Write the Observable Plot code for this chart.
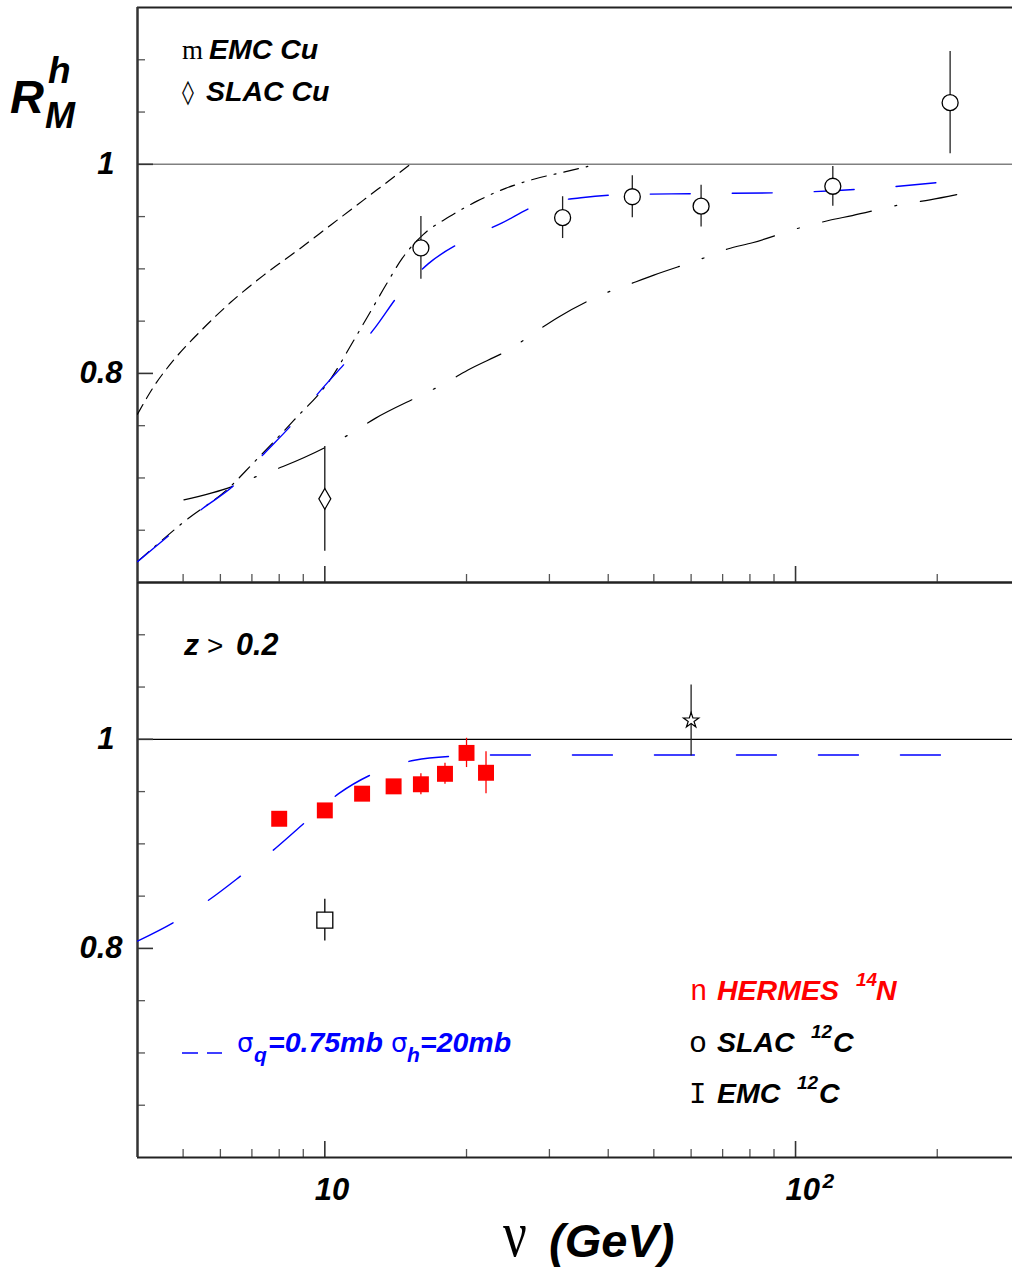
<!DOCTYPE html>
<html><head><meta charset="utf-8">
<script src="https://cdn.jsdelivr.net/npm/d3@7"></script>
<script src="https://cdn.jsdelivr.net/npm/@observablehq/plot@0.6"></script>
<style>
body{margin:0;background:#fff;}
#wrap{position:relative;width:1012px;height:1270px;overflow:hidden;background:#fff;}
#wrap svg{position:absolute;left:0;}
</style></head><body><div id="wrap"></div>
<script>
// ---------- axes ----------
const xDomain = [4, 289];
const yDomain = [0.6, 1.15];
const xMajorTicks = [10, 100];
const xMinorTicks = [5, 6, 7, 8, 9, 20, 30, 40, 50, 60, 70, 80, 90, 200];
const xTickLabels = ["10", "10"];
const xTickExponents = ["", "2"];
const yMajorTicks = [0.8, 1];
const yMinorTicks = [0.65, 0.7, 0.75, 0.85, 0.9, 0.95, 1.05, 1.1];
const yTickLabels = ["0.8", "1"];

// ---------- top panel data (Cu) ----------
const emcCuNu = [16, 32, 45, 63, 120, 213];
const emcCuR = [0.920, 0.949, 0.969, 0.960, 0.979, 1.059];
const emcCuErr = [0.030, 0.020, 0.020, 0.020, 0.019, 0.049];
const slacCuNu = [10];
const slacCuR = [0.680];
const slacCuErr = [0.050];

// short-dashed black curve
const curveANu = [4.0, 4.34, 4.78, 5.46, 6.31, 7.42, 8.77, 10.3, 12.1, 14.7, 15.2];
const curveAR = [0.761, 0.788, 0.813, 0.841, 0.868, 0.894, 0.918, 0.942, 0.966, 0.995, 1.0];
// dash-dot black curve (steep)
const curveBNu = [4.0, 5.02, 6.31, 6.97, 8.59, 10.3, 11.5, 12.5, 13.5, 14.6, 16.2, 18.4, 21.1, 24.2, 27.9, 32.5, 36.2];
const curveBR = [0.620, 0.658, 0.692, 0.712, 0.755, 0.795, 0.831, 0.859, 0.885, 0.910, 0.933, 0.950, 0.965, 0.977, 0.986, 0.993, 0.998];
// blue long-dashed curve (top)
const curveCNu = [4.0, 4.36, 5.51, 6.38, 7.42, 8.55, 9.81, 11.2, 12.8, 14.4, 16.6, 19.6, 23.8, 28.3, 35.0, 42.5, 63.8, 96.1, 145, 216];
const curveCR = [0.620, 0.634, 0.671, 0.692, 0.723, 0.752, 0.784, 0.813, 0.844, 0.876, 0.905, 0.926, 0.944, 0.961, 0.968, 0.971, 0.972, 0.973, 0.977, 0.984];
// long dash-dot black curve
const curveDNu = [5.02, 6.38, 7.21, 8.15, 10.2, 11.5, 12.8, 16.0, 17.9, 20.1, 25.1, 28.1, 31.4, 39.1, 44.2, 50.0, 63.5, 71.7, 81.0, 103.5, 117, 132, 170, 193, 220];
const curveDR = [0.679, 0.692, 0.702, 0.711, 0.731, 0.744, 0.757, 0.779, 0.790, 0.803, 0.825, 0.840, 0.854, 0.876, 0.885, 0.894, 0.910, 0.919, 0.925, 0.940, 0.946, 0.951, 0.962, 0.966, 0.971];

// ---------- bottom panel data (N, C) ----------
const hermesNu = [8, 10, 12, 14, 16, 18, 20, 22];
const hermesR = [0.924, 0.932, 0.948, 0.955, 0.957, 0.967, 0.987, 0.968];
const hermesErr = [0.005, 0.005, 0.005, 0.006, 0.010, 0.010, 0.014, 0.020];
const slacCNu = [10];
const slacCR = [0.827];
const slacCErr = [0.020];
const emcCNu = [60];
const emcCR = [1.018];
const emcCErr = [0.034];
// blue dashed model curve (bottom)
const curveENu = [4.0, 4.78, 5.70, 6.70, 7.87, 9.16, 10.7, 12.8, 15.5, 19.0, 23.4, 60, 221];
const curveER = [0.807, 0.825, 0.847, 0.871, 0.896, 0.922, 0.948, 0.968, 0.980, 0.984, 0.985, 0.985, 0.985];

// ---------- helpers ----------
const pts = (xs, ys, es) => xs.map((x, i) => ({x, y: ys[i], e: es ? es[i] : 0}));
const FONT = "Liberation Sans, Arial, Helvetica, sans-serif";
const frameW = 1012 - 137;
const frameH = 575;
const labelStyle = {fontSize: 31, fontWeight: "bold", fontStyle: "italic", fontFamily: FONT, fill: "#000"};

function frameMarks(isBottom) {
  return [
    Plot.ruleY([1], {stroke: isBottom ? "#000" : "#808080", strokeWidth: isBottom ? 1.3 : 1.6}),
    Plot.tickY(yMajorTicks, {y: d => d, insetRight: frameW - 16, stroke: "#333", strokeWidth: 1.6}),
    Plot.tickY(yMinorTicks, {y: d => d, insetRight: frameW - 8, stroke: "#555", strokeWidth: 1.3}),
    Plot.tickX(xMajorTicks, {x: d => d, insetTop: frameH - 16, stroke: "#333", strokeWidth: 1.6}),
    Plot.tickX(xMinorTicks, {x: d => d, insetTop: frameH - 8, stroke: "#555", strokeWidth: 1.3}),
    Plot.ruleY(yDomain, {stroke: "#222", strokeWidth: 2}),
    Plot.ruleX([xDomain[0]], {stroke: "#333", strokeWidth: 2.5}),
    Plot.text([yMajorTicks[0]], {y: d => d, text: [yTickLabels[0]], frameAnchor: "left", dx: -15, textAnchor: "end", ...labelStyle}),
    Plot.text([yMajorTicks[1]], {y: d => d, text: [yTickLabels[1]], frameAnchor: "left", dx: -23, textAnchor: "end", ...labelStyle})
  ];
}

function panel(height, marks) {
  return Plot.plot({
    width: 1012, height,
    marginLeft: 137, marginRight: 0, marginTop: 7, marginBottom: height - 7 - frameH,
    x: {type: "log", domain: xDomain, axis: null},
    y: {domain: yDomain, axis: null},
    style: {background: "transparent", overflow: "visible", fontFamily: FONT},
    marks
  });
}

// ---------- top panel ----------
const emcCu = pts(emcCuNu, emcCuR, emcCuErr);
const slacCu = pts(slacCuNu, slacCuR, slacCuErr);
const topSvg = panel(600, [
  ...frameMarks(false),
  Plot.line(pts(curveANu, curveAR), {x: "x", y: "y", curve: "monotone-x", stroke: "#000", strokeWidth: 1.2, strokeDasharray: "11,7", clip: true}),
  Plot.line(pts(curveDNu, curveDR), {x: "x", y: "y", curve: "monotone-x", stroke: "#000", strokeWidth: 1.2, strokeDasharray: "50,24,2,24", clip: true}),
  Plot.line(pts(curveBNu, curveBR), {x: "x", y: "y", curve: "monotone-x", stroke: "#000", strokeWidth: 1.2, strokeDasharray: "15,8,2,8", clip: true}),
  Plot.line(pts(curveCNu, curveCR), {x: "x", y: "y", curve: "monotone-x", stroke: "#0000ff", strokeWidth: 1.4, strokeDasharray: "40,42", clip: true}),
  Plot.ruleX(emcCu, {x: "x", y1: d => d.y - d.e, y2: d => d.y + d.e, stroke: "#222", strokeWidth: 1.3}),
  Plot.dot(emcCu, {x: "x", y: "y", r: 8, stroke: "#000", fill: "#fff", strokeWidth: 1.3}),
  Plot.ruleX(slacCu, {x: "x", y1: d => d.y - d.e, y2: d => d.y + d.e, stroke: "#000", strokeWidth: 1.2}),
  Plot.dot(slacCu, {x: "x", y: "y", symbol: "diamond", r: 6.3, stroke: "#000", fill: "#fff", strokeWidth: 1.2})
]);

// ---------- bottom panel ----------
const hermes = pts(hermesNu, hermesR, hermesErr);
const slacC = pts(slacCNu, slacCR, slacCErr);
const emcC = pts(emcCNu, emcCR, emcCErr);
const botSvg = panel(695, [
  ...frameMarks(true),
  Plot.line(pts(curveENu, curveER), {x: "x", y: "y", curve: "monotone-x", stroke: "#0000ff", strokeWidth: 1.4, strokeDasharray: "40,42", clip: true}),
  Plot.ruleX(hermes, {x: "x", y1: d => d.y - d.e, y2: d => d.y + d.e, stroke: "#ff0000", strokeWidth: 1.3}),
  Plot.dot(hermes, {x: "x", y: "y", symbol: "square", r: 9, fill: "#ff0000", stroke: "none"}),
  Plot.ruleX(slacC, {x: "x", y1: d => d.y - d.e, y2: d => d.y + d.e, stroke: "#000", strokeWidth: 1.3}),
  Plot.dot(slacC, {x: "x", y: "y", symbol: "square", r: 9, stroke: "#000", fill: "#fff", strokeWidth: 1.3}),
  Plot.ruleX(emcC, {x: "x", y1: d => d.y - d.e, y2: d => d.y + d.e, stroke: "#222", strokeWidth: 1.3}),
  Plot.dot(emcC, {x: "x", y: "y", symbol: "star", r: 4.8, stroke: "#000", fill: "#fff", strokeWidth: 1.2}),
  Plot.text(xMajorTicks, {x: d => d, text: (d, i) => xTickLabels[i], frameAnchor: "bottom", dx: -10, dy: 42, textAnchor: "start", ...labelStyle}),
  Plot.text(xMajorTicks, {x: d => d, text: (d, i) => xTickExponents[i], frameAnchor: "bottom", dx: 27, dy: 30, textAnchor: "start", ...labelStyle, fontSize: 21})
]);

const wrap = document.getElementById("wrap");
botSvg.style.top = "575px";
topSvg.style.top = "0px";
wrap.appendChild(botSvg);
wrap.appendChild(topSvg);

// ---------- text overlay (labels, legends) ----------
const BI = `font-family="${FONT}" font-weight="bold" font-style="italic"`;
const overlay = `
<svg xmlns="http://www.w3.org/2000/svg" width="1012" height="1270" style="top:0;left:0;pointer-events:none">
  <text x="10" y="113" font-size="47" ${BI}>R</text>
  <text x="48" y="83" font-size="37" ${BI}>h</text>
  <text x="45" y="128" font-size="36" ${BI}>M</text>

  <text x="182" y="59" font-size="27" font-family="Liberation Serif, serif">m</text>
  <text x="209" y="59" font-size="28.5" ${BI}>EMC Cu</text>
  <text x="182" y="100" font-size="24" font-family="DejaVu Sans, sans-serif">◊</text>
  <text x="206" y="101" font-size="28.5" ${BI}>SLAC Cu</text>

  <text x="184" y="655" font-size="30" ${BI}>z</text>
  <text x="207" y="655" font-size="28" font-family="${FONT}">&gt;</text>
  <text x="236" y="655" font-size="30.5" ${BI}>0.2</text>

  <g fill="#ff0000">
    <text x="690" y="1000" font-size="29" font-family="Liberation Mono, monospace">n</text>
    <text x="717" y="1000" font-size="28.5" ${BI}>HERMES</text>
    <text x="856" y="986" font-size="19" ${BI}>14</text>
    <text x="876" y="1000" font-size="28.5" ${BI}>N</text>
  </g>
  <text x="689" y="1052" font-size="30" font-family="Liberation Mono, monospace">o</text>
  <text x="717" y="1052" font-size="28.5" ${BI}>SLAC</text>
  <text x="811" y="1038" font-size="19" ${BI}>12</text>
  <text x="833" y="1052" font-size="28.5" ${BI}>C</text>
  <text x="689" y="1103" font-size="29" font-family="Liberation Mono, monospace">I</text>
  <text x="717" y="1103" font-size="28.5" ${BI}>EMC</text>
  <text x="797" y="1089" font-size="19" ${BI}>12</text>
  <text x="819" y="1103" font-size="28.5" ${BI}>C</text>

  <line x1="182" x2="222" y1="1053" y2="1053" stroke="#0000ff" stroke-width="1.3" stroke-dasharray="16,9"/>
  <g fill="#0000ff">
    <text x="237" y="1052" font-size="26" font-family="DejaVu Sans, sans-serif">σ</text>
    <text x="254" y="1062" font-size="21" ${BI}>q</text>
    <text x="268" y="1052" font-size="28.5" ${BI}>=0.75mb</text>
    <text x="391" y="1052" font-size="26" font-family="DejaVu Sans, sans-serif">σ</text>
    <text x="407" y="1062" font-size="21" ${BI}>h</text>
    <text x="420" y="1052" font-size="28.5" ${BI}>=20mb</text>
  </g>

  <text transform="translate(503,1256) scale(1.1,1.35)" font-size="48" font-family="Liberation Serif, serif">ν</text>
  <text x="549" y="1257" font-size="47" ${BI}>(GeV)</text>
</svg>`;
wrap.insertAdjacentHTML("beforeend", overlay);
</script></body></html>
